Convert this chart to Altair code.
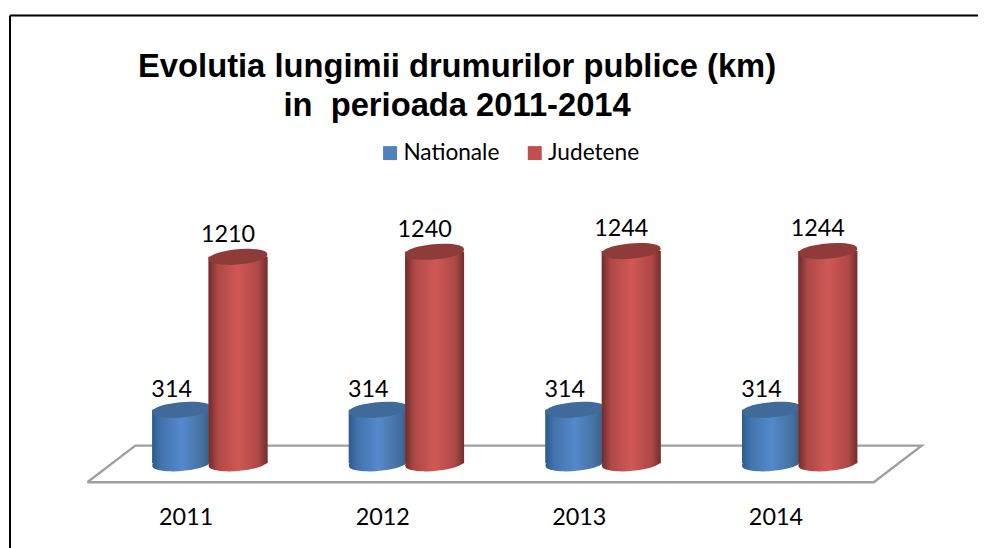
import altair as alt
import pandas as pd

years = [2011, 2012, 2013, 2014]
nationale = [314, 314, 314, 314]
judetene = [1210, 1240, 1244, 1244]
series_names = ["Nationale", "Judetene"]
series_colors = ["#4F81BD", "#C0504D"]
title_lines = ["Evolutia lungimii drumurilor publice (km)", "in\u00a0 perioada 2011-2014"]

# floor of the 3D plot, in data units
floor_year = [2010.5, 2014.5, 2014.744, 2010.744, 2010.5]
floor_km = [-111, -111, 103.5, 103.5, -111]
floor_order = [0, 1, 2, 3, 4]

W, H = 970, 534
ELLIPSE = "M-0.995,0.09 A1,0.25,-5,1,1,0.995,-0.09 A1,0.25,-5,1,1,-0.995,0.09 Z"
BAR_W = 59
SIZE = BAR_W ** 2

def grad(stops):
    return alt.Gradient(
        gradient="linear", x1=0, x2=1, y1=0, y2=0,
        stops=[alt.GradientStop(offset=o, color=c) for o, c in stops],
    )

blue_grad = grad([(0, "#2F5B8C"), (0.15, "#4373AD"), (0.5, "#5589CC"), (0.85, "#44719F"), (1, "#345C87")])
red_grad = grad([(0, "#6E2C2B"), (0.15, "#AD4846"), (0.5, "#D05856"), (0.85, "#AE4846"), (1, "#6F2F2E")])

x_scale = alt.Scale(domain=[2010.5, 2014.5], range=[77.5, 865.5], padding=0, nice=False, zero=False)
y_scale = alt.Scale(domain=[0, 1244], range=[448.7, 236.0], padding=0, nice=False)
x_axis = alt.Axis(
    values=years, format="d", title=None, domain=False, ticks=False, grid=False,
    labelFont="Lato", labelFontSize=23.4, labelColor="#000000",
    labelPadding=0, offset=-42,
)
X = alt.X("year:Q", scale=x_scale, axis=x_axis)
Y = alt.Y("km:Q", scale=y_scale, axis=None)
Y0 = alt.Y("zero:Q", scale=y_scale, axis=None)

df_n = pd.DataFrame({"year": years, "km": nationale, "zero": 0, "series": series_names[0]})
df_j = pd.DataFrame({"year": years, "km": judetene, "zero": 0, "series": series_names[1]})
df_floor = pd.DataFrame({"year": floor_year, "km": floor_km, "o": floor_order})

legend = alt.Legend(
    title=None, orient="none", legendX=369.5, legendY=126, direction="horizontal",
    symbolType="square", symbolSize=196, symbolStrokeWidth=0, labelFont="Lato",
    labelFontSize=22.7, labelColor="#000000", columnPadding=24, labelOffset=2,
)
color = alt.Color(
    "series:N",
    scale=alt.Scale(domain=series_names, range=series_colors),
    legend=legend,
)

floor = (
    alt.Chart(df_floor)
    .mark_line(color="#A0A0A0", strokeWidth=2.4, strokeJoin="miter")
    .encode(x=X, y=Y, order="o:Q")
)

def cylinder(df, grad_fill, top_fill, dx):
    base = alt.Chart(df)
    flat = base.mark_bar(orient="vertical", width=BAR_W, xOffset=dx).encode(
        x=X, y=Y, y2=alt.Y2("zero:Q"), color=color
    )
    body = base.mark_bar(orient="vertical", width=BAR_W, xOffset=dx, fill=grad_fill).encode(
        x=X, y=Y, y2=alt.Y2("zero:Q")
    )
    bottom = base.mark_point(
        shape=ELLIPSE, size=SIZE, filled=True, opacity=1, xOffset=dx, fill=grad_fill, strokeWidth=0
    ).encode(x=X, y=Y0)
    top = base.mark_point(
        shape=ELLIPSE, size=SIZE, filled=True, opacity=1, xOffset=dx, fill=top_fill, strokeWidth=0
    ).encode(x=X, y=Y)
    return [flat, bottom, body, top]

def labels(df, dx, dy):
    return (
        alt.Chart(df)
        .mark_text(font="Lato", fontSize=23.4, color="#000000", dx=dx, dy=dy, baseline="middle", align="center")
        .encode(x=X, y=Y, text="km:Q")
    )

top_border = alt.Chart(df_n.head(1)).mark_rule(color="#000000", strokeWidth=2).encode(
    x=alt.value(0), x2=alt.value(W), y=alt.value(0)
)
left_border = alt.Chart(df_n.head(1)).mark_rule(color="#000000", strokeWidth=2).encode(
    x=alt.value(0), y=alt.value(0), y2=alt.value(H)
)

chart = (
    alt.layer(
        floor,
        *cylinder(df_n, blue_grad, "#3F6A99", -4),
        *cylinder(df_j, red_grad, "#8E3B3A", 52.5),
        labels(df_n, -14, -20), labels(df_j, 42.5, -22),
        top_border, left_border,
    )
    .properties(
        width=W, height=H, background="#FFFFFF",
        padding={"left": 1, "top": 6, "right": 0, "bottom": 0},
        title=alt.TitleParams(
            text=title_lines, font="Liberation Sans", fontSize=32.8, fontWeight="bold", color="#000000",
            anchor="middle", frame="group", dx=-37, offset=-108, lineHeight=39,
        ),
    )
    .configure_view(stroke=None)
)

chart.save("out.html", embed_options={"renderer": "svg", "actions": False})
